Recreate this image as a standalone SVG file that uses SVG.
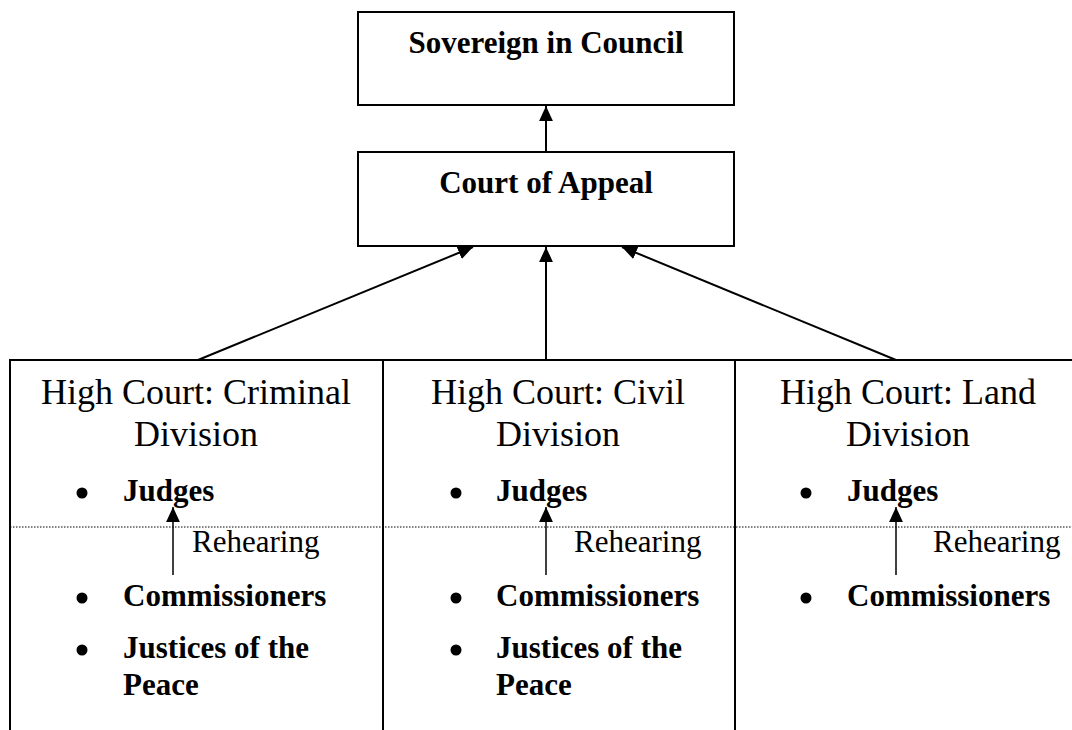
<svg xmlns="http://www.w3.org/2000/svg" width="1072" height="730" viewBox="0 0 1072 730">
<style>
.box{fill:#fff;stroke:#000;stroke-width:2}
.ln{stroke:#000;stroke-width:2;fill:none}
.thin{stroke:#000;stroke-width:1.5;fill:none}
.dot{stroke:#000;stroke-width:1;stroke-dasharray:1.5 1.5;fill:none}
.h{font-family:"Liberation Serif",serif;font-size:36px;text-anchor:middle}
.b{font-family:"Liberation Serif",serif;font-size:31px;font-weight:bold}
.r{font-family:"Liberation Serif",serif;font-size:31px}
.tb{font-family:"Liberation Serif",serif;font-size:31px;font-weight:bold;text-anchor:middle}
.bul{fill:#000}
</style>
<defs>
<marker id="ah2" viewBox="0 0 10 10" refX="10" refY="5" markerWidth="15" markerHeight="15" markerUnits="userSpaceOnUse" orient="auto"><path d="M0,0.4 L10,5 L0,9.6 z"/></marker>
</defs>
<rect width="1072" height="730" fill="#fff"/>
<g id="sovereign">
<rect class="box" x="358" y="12" width="376" height="93"/>
<text class="tb" x="546" y="53">Sovereign in Council</text>
</g>
<g id="appeal">
<rect class="box" x="358" y="152" width="376" height="94"/>
<text class="tb" x="546" y="193">Court of Appeal</text>
</g>
<g id="criminal">
<rect class="box" x="10" y="360" width="373" height="380"/>
<text class="h" x="196" y="404">High Court: Criminal</text>
<text class="h" x="196" y="446">Division</text>
<circle class="bul" cx="82" cy="493" r="5.5"/><text class="b" x="123" y="501">Judges</text>
<circle class="bul" cx="82" cy="598" r="5.5"/><text class="b" x="123" y="606">Commissioners</text>
<circle class="bul" cx="82" cy="650" r="5.5"/><text class="b" x="123" y="658">Justices of the</text>
<text class="b" x="123" y="695">Peace</text>
<text class="r" x="192" y="552">Rehearing</text>
</g>
<g id="civil">
<rect class="box" x="383" y="360" width="352" height="380"/>
<text class="h" x="558" y="404">High Court: Civil</text>
<text class="h" x="558" y="446">Division</text>
<circle class="bul" cx="456" cy="493" r="5.5"/><text class="b" x="496" y="501">Judges</text>
<circle class="bul" cx="456" cy="598" r="5.5"/><text class="b" x="496" y="606">Commissioners</text>
<circle class="bul" cx="456" cy="650" r="5.5"/><text class="b" x="496" y="658">Justices of the</text>
<text class="b" x="496" y="695">Peace</text>
<text class="r" x="574" y="552">Rehearing</text>
</g>
<g id="land">
<rect class="box" x="735" y="360" width="350" height="380"/>
<text class="h" x="908" y="404">High Court: Land</text>
<text class="h" x="908" y="446">Division</text>
<circle class="bul" cx="806" cy="493" r="5.5"/><text class="b" x="847" y="501">Judges</text>
<circle class="bul" cx="806" cy="598" r="5.5"/><text class="b" x="847" y="606">Commissioners</text>
<text class="r" x="933" y="552">Rehearing</text>
</g>
<g id="connectors">
<line class="dot" x1="10" y1="527" x2="1072" y2="527"/>
<line class="ln" x1="546" y1="152" x2="546" y2="106" marker-end="url(#ah2)"/>
<line class="ln" x1="198" y1="360" x2="473" y2="247" marker-end="url(#ah2)"/>
<line class="ln" x1="546" y1="360" x2="546" y2="247" marker-end="url(#ah2)"/>
<line class="ln" x1="896" y1="360" x2="622" y2="247" marker-end="url(#ah2)"/>
<line class="thin" x1="173" y1="575" x2="173" y2="507" marker-end="url(#ah2)"/>
<line class="thin" x1="546" y1="575" x2="546" y2="507" marker-end="url(#ah2)"/>
<line class="thin" x1="896" y1="575" x2="896" y2="507" marker-end="url(#ah2)"/>
</g>
</svg>
